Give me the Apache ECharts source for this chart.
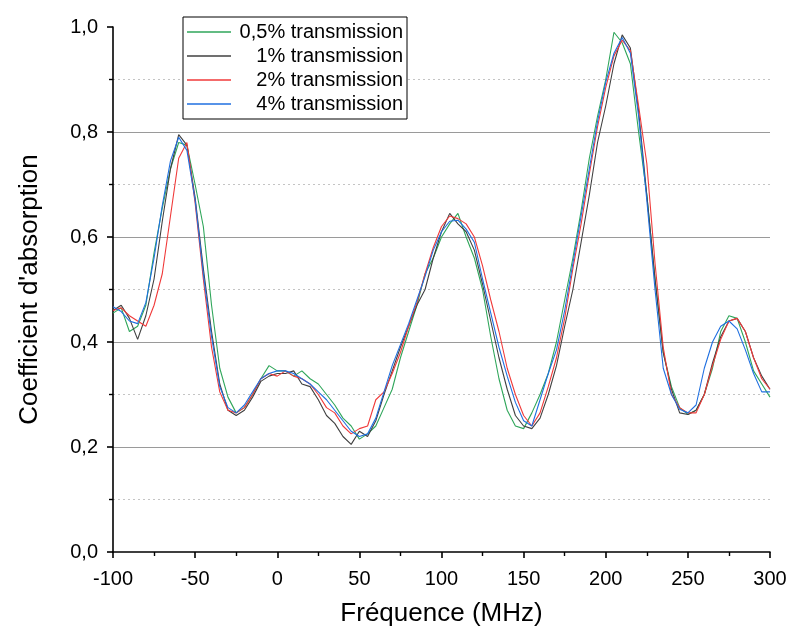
<!DOCTYPE html>
<html>
<head>
<meta charset="utf-8">
<script src="https://cdn.jsdelivr.net/npm/echarts@6/dist/echarts.min.js"></script>
<style>
html,body{margin:0;padding:0;background:#fff;}
#chart{width:791px;height:634px;}
</style>
</head>
<body>
<div id="chart"></div>
<script>
// Frequency (MHz)
const freq = [-100,-95,-90,-85,-80,-75,-70,-65,-60,-55,-50,-45,-40,-35,-30,-25,-20,-15,-10,-5,
  0,5,10,15,20,25,30,35,40,45,50,55,60,65,70,75,80,85,90,95,
  100,105,110,115,120,125,130,135,140,145,150,155,160,165,170,175,180,185,190,195,
  200,205,210,215,220,225,230,235,240,245,250,255,260,265,270,275,280,285,290,295,300];

const t05 = [0.455,0.465,0.42,0.43,0.47,0.57,0.655,0.73,0.78,0.775,0.70,0.62,0.47,0.35,0.295,0.265,0.275,0.30,0.33,0.355,
  0.345,0.345,0.335,0.345,0.33,0.32,0.30,0.28,0.255,0.24,0.215,0.225,0.24,0.275,0.31,0.37,0.42,0.47,0.53,0.56,
  0.60,0.625,0.645,0.60,0.56,0.50,0.41,0.33,0.27,0.24,0.235,0.265,0.30,0.34,0.40,0.48,0.56,0.65,0.75,0.83,
  0.90,0.99,0.97,0.93,0.80,0.68,0.52,0.38,0.315,0.275,0.262,0.27,0.30,0.35,0.42,0.45,0.445,0.40,0.345,0.32,0.295];

const t1 = [0.46,0.47,0.445,0.405,0.45,0.52,0.63,0.73,0.795,0.775,0.675,0.54,0.42,0.32,0.27,0.26,0.27,0.295,0.325,0.335,
  0.34,0.34,0.345,0.32,0.315,0.29,0.26,0.245,0.22,0.205,0.23,0.22,0.25,0.30,0.345,0.39,0.43,0.47,0.50,0.56,
  0.61,0.645,0.625,0.61,0.575,0.51,0.44,0.37,0.31,0.26,0.24,0.235,0.255,0.30,0.355,0.43,0.50,0.59,0.68,0.78,
  0.85,0.93,0.985,0.96,0.84,0.68,0.52,0.38,0.31,0.265,0.262,0.27,0.30,0.36,0.41,0.44,0.445,0.42,0.37,0.335,0.31];

const t2 = [0.46,0.465,0.45,0.44,0.43,0.47,0.53,0.64,0.75,0.78,0.665,0.52,0.39,0.305,0.27,0.265,0.275,0.30,0.33,0.34,
  0.335,0.345,0.335,0.33,0.32,0.30,0.275,0.265,0.24,0.225,0.235,0.24,0.29,0.305,0.34,0.38,0.43,0.475,0.53,0.58,
  0.62,0.64,0.635,0.625,0.60,0.545,0.48,0.42,0.35,0.30,0.26,0.24,0.265,0.315,0.37,0.445,0.54,0.625,0.72,0.81,
  0.885,0.945,0.975,0.955,0.85,0.74,0.55,0.39,0.30,0.275,0.265,0.265,0.30,0.355,0.405,0.44,0.445,0.42,0.37,0.33,0.31];

const t4 = [0.467,0.458,0.44,0.435,0.475,0.56,0.66,0.745,0.79,0.765,0.67,0.53,0.41,0.315,0.275,0.265,0.28,0.305,0.33,0.34,
  0.345,0.345,0.34,0.33,0.32,0.305,0.29,0.27,0.25,0.23,0.22,0.225,0.255,0.305,0.355,0.395,0.435,0.48,0.525,0.575,
  0.61,0.63,0.632,0.615,0.59,0.52,0.455,0.39,0.335,0.285,0.25,0.24,0.29,0.34,0.385,0.46,0.55,0.64,0.73,0.82,
  0.895,0.95,0.98,0.95,0.83,0.67,0.50,0.35,0.30,0.272,0.265,0.28,0.35,0.40,0.43,0.44,0.425,0.385,0.34,0.305,0.305];

const seriesNames = ['0,5% transmission','1% transmission','2% transmission','4% transmission'];
const seriesData = [t05, t1, t2, t4];
const seriesColors = ['#2fa65a','#404040','#f03a3a','#1f6fe0'];

const xTicks = {min:-100, max:300, interval:50};
const yTicks = {min:0, max:1, interval:0.2};

const FONT = '"Liberation Sans", Arial, sans-serif';
const chart = echarts.init(document.getElementById('chart'), null, {renderer:'canvas'});

const option = {
  animation:false,
  backgroundColor:'#fff',
  grid:{left:113, right:21, top:27, bottom:82, containLabel:false},
  legend:{
    show:true,
    orient:'vertical',
    left:183, top:17,
    padding:[5,4,5,4],
    itemGap:4,
    itemWidth:44,
    itemHeight:1.5,
    icon:'rect',
    backgroundColor:'#fff',
    borderColor:'#000',
    borderWidth:1,
    borderRadius:0,
    data:seriesNames,
    formatter:function(n){return '{a|'+n+'}';},
    textStyle:{
      fontFamily:FONT, fontSize:20, color:'#000',
      rich:{a:{width:167, align:'right', fontFamily:FONT, fontSize:20, lineHeight:21, color:'#000'}}
    }
  },
  xAxis:{
    type:'value',
    min:xTicks.min, max:xTicks.max, interval:xTicks.interval,
    name:'Fréquence (MHz)',
    nameLocation:'middle',
    nameGap:49,
    nameTextStyle:{fontFamily:FONT, fontSize:26, color:'#000'},
    axisLine:{show:true, onZero:false, lineStyle:{color:'#000', width:1.6}},
    axisTick:{show:true, inside:false, length:6, lineStyle:{color:'#000', width:1.6}},
    minorTick:{show:true, splitNumber:2, length:4, lineStyle:{color:'#000', width:1.4}},
    axisLabel:{fontFamily:FONT, fontSize:20, color:'#000', margin:17},
    splitLine:{show:false}
  },
  yAxis:{
    type:'value',
    min:yTicks.min, max:yTicks.max, interval:yTicks.interval,
    name:"Coefficient d'absorption",
    nameLocation:'middle',
    nameGap:70,
    nameTextStyle:{fontFamily:FONT, fontSize:26, color:'#000'},
    axisLine:{show:true, onZero:false, lineStyle:{color:'#000', width:1.6}},
    axisTick:{show:true, inside:false, length:6, lineStyle:{color:'#000', width:1.6}},
    minorTick:{show:true, splitNumber:2, length:4, lineStyle:{color:'#000', width:1.4}},
    axisLabel:{fontFamily:FONT, fontSize:20, color:'#000', margin:15,
      formatter:function(v){return v.toFixed(1).replace('.', ',');}},
    splitLine:{show:true, showMinLine:false, showMaxLine:false, lineStyle:{color:'#9a9a9a', width:1.2}},
    minorSplitLine:{show:true, lineStyle:{color:'#c4c4c4', width:1, type:[2,3]}}
  },
  series: seriesNames.map(function(name, k){
    return {
      name:name,
      type:'line',
      symbol:'none',
      smooth:false,
      data:freq.map(function(f,i){return [f, seriesData[k][i]];}),
      lineStyle:{color:seriesColors[k], width:1.1},
      itemStyle:{color:seriesColors[k]},
      z:2+k
    };
  })
};
chart.setOption(option);
</script>
</body>
</html>
